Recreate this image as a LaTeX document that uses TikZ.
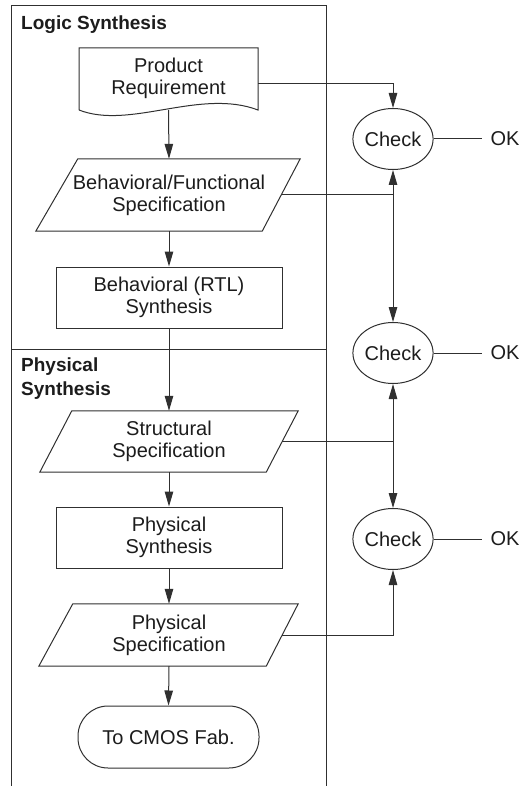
\documentclass[tikz,border=0pt]{standalone}
\usepackage{fontspec}
\setmainfont{Liberation Sans}
\usetikzlibrary{arrows.meta,shapes.geometric,calc}
\definecolor{ink}{HTML}{1C1C1C}
\definecolor{edge}{HTML}{303030}
\begin{document}
\begin{tikzpicture}[x=1pt,y=-1pt,
  every node/.style={text=ink},
  body/.style={font=\fontsize{20}{22}\selectfont, align=center, inner sep=0pt},
  heading/.style={font=\fontsize{19}{24}\selectfont\bfseries, align=left, inner sep=0pt},
  procbox/.style={body, draw=edge, line width=1pt, minimum width=226pt, minimum height=61pt},
  specbox/.style={body, minimum width=224pt},
  termbox/.style={body, draw=edge, line width=1pt, rounded corners=30pt, minimum width=181pt, minimum height=62pt},
  checknode/.style={body, ellipse, draw=edge, line width=1pt, minimum width=68pt, minimum height=61pt},
  oknode/.style={body, inner xsep=8pt},
  link/.style={draw=edge, line width=1pt},
  arr/.style={link, -{Triangle[length=15pt,width=8.5pt]}}
]
\useasboundingbox (0,0) rectangle (521,786);

% frame with the two regions
\draw[link] (11,786) -- (11,6) -- (326,6) -- (326,786);
\draw[link] (11,349) -- (326,349);
\node[heading, anchor=base west] (hlogic) at (21,30) {Logic Synthesis};
\node[heading, anchor=north west] (hphys) at (21,358) {Physical\\Synthesis};

% flow column
\node[body, minimum width=179pt, minimum height=62pt] (pr) at (168.5,79) {\raisebox{5pt}{\begin{tabular}{@{}c@{}}Product\\Requirement\end{tabular}}};
\draw[link] (79,110) -- (79,48) -- (258,48) -- (258,110)
  .. controls (200,88) and (130,130) .. (79,110);

\node[specbox, minimum height=72pt] (bf) at (169,195) {Behavioral/Functional\\Specification};
\draw[link] ([xshift=21pt]bf.north west) -- ([xshift=19pt]bf.north east)
  -- ([xshift=-19pt]bf.south east) -- ([xshift=-21pt]bf.south west) -- cycle;

\node[procbox] (rtl) at (169,297.5) {Behavioral (RTL)\\Synthesis};

\node[specbox, minimum width=226pt, minimum height=61pt] (ss) at (169,441.5) {Structural\\Specification};
\draw[link] ([xshift=16pt]ss.north west) -- ([xshift=16pt]ss.north east)
  -- ([xshift=-16pt]ss.south east) -- ([xshift=-16pt]ss.south west) -- cycle;

\node[procbox] (psyn) at (169,537.5) {Physical\\Synthesis};

\node[specbox, minimum width=226pt, minimum height=62pt] (ps) at (169,635) {Physical\\Specification};
\draw[link] ([xshift=17pt]ps.north west) -- ([xshift=16pt]ps.north east)
  -- ([xshift=-16pt]ps.south east) -- ([xshift=-17pt]ps.south west) -- cycle;

\node[termbox] (fab) at (168.5,737) {To CMOS Fab.};

\draw[arr] (pr.south) -- (bf.north);
\draw[arr] (bf.south) -- (rtl.north);
\draw[arr] (rtl.south) -- (ss.north);
\draw[arr] (ss.south) -- (psyn.north);
\draw[arr] (psyn.south) -- (ps.north);
\draw[arr] (ps.south) -- (fab.north);

% check column
\node[checknode] (c1) at (393,139) {Check};
\node[checknode] (c2) at (393,353) {Check};
\node[checknode] (c3) at (393,539) {Check};
\node[oknode] (ok1) at (505,139) {OK};
\node[oknode] (ok2) at (505,353) {OK};
\node[oknode] (ok3) at (505,539) {OK};
\draw[link] (c1.east) -- (ok1.west);
\draw[link] (c2.east) -- (ok2.west);
\draw[link] (c3.east) -- (ok3.west);

\draw[arr] ([yshift=-5pt]pr.east) -| (c1.north);

\coordinate (j1) at (bf.east -| c1.south);
\draw[link] (bf.east) -- (j1);
\draw[arr] (j1) -- (c1.south);
\draw[arr] (j1) -- (c2.north);

\coordinate (j2) at (ss.east -| c2.south);
\draw[link] (ss.east) -- (j2);
\draw[arr] (j2) -- (c2.south);
\draw[arr] (j2) -- (c3.north);

\draw[arr] (ps.east) -| (c3.south);
\end{tikzpicture}
\end{document}
